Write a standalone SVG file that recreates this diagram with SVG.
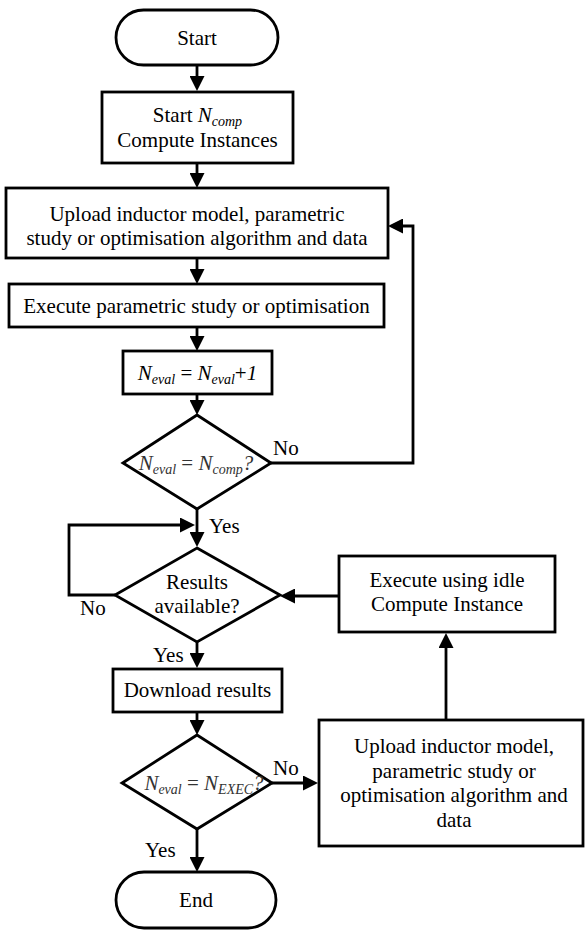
<svg xmlns="http://www.w3.org/2000/svg" width="585" height="930" viewBox="0 0 585 930">
<style>
.s{fill:#fff;stroke:#000;stroke-width:2.8}
.c{fill:none;stroke:#000;stroke-width:2.8;marker-end:url(#ah)}
.t{font-family:"Liberation Serif","Times New Roman",serif;font-size:21px;fill:#000}
.m{text-anchor:middle}
.i{font-style:italic}
.sub{font-size:14px;font-style:italic}
.g{fill:#333}
</style>
<defs>
<marker id="ah" markerUnits="userSpaceOnUse" markerWidth="15" markerHeight="15" viewBox="0 0 15 15" refX="7" refY="7.5" orient="auto">
<path d="M0,0 L15,7.5 L0,15 Z" fill="#000"/>
</marker>
</defs>
<rect width="585" height="930" fill="#fff"/>
<g id="connectors">
<path class="c" d="M197,65 V83"/>
<path class="c" d="M197,163 V180"/>
<path class="c" d="M197,258 V276"/>
<path class="c" d="M197,327 V343"/>
<path class="c" d="M197,394 V407"/>
<path class="c" d="M271,463 H413 V226 H396"/>
<path class="c" d="M197,509 V539"/>
<path class="c" d="M115,595 H69 V525 H187"/>
<path class="c" d="M197,642 V660"/>
<path class="c" d="M197,712 V727"/>
<path class="c" d="M197,829 V864"/>
<path class="c" d="M272,783 H310"/>
<path class="c" d="M446,720 V641"/>
<path class="c" d="M339,596 H288"/>
<text class="t" x="273" y="455">No</text>
<text class="t" x="209" y="533">Yes</text>
<text class="t" x="80" y="615">No</text>
<text class="t" x="153" y="662">Yes</text>
<text class="t" x="273" y="775">No</text>
<text class="t" x="145" y="857">Yes</text>
</g>
<g id="start">
<rect class="s" x="116" y="10" width="162" height="55" rx="27.5"/>
<text class="t m" x="197" y="45">Start</text>
</g>
<g id="start-instances">
<rect class="s" x="102" y="92" width="191" height="71"/>
<text class="t m" x="197.5" y="122">Start <tspan class="i">N</tspan><tspan class="sub" dy="4">comp</tspan></text>
<text class="t m" x="197.5" y="147">Compute Instances</text>
</g>
<g id="upload1">
<rect class="s" x="6" y="188" width="382" height="70"/>
<text class="t m" x="197" y="221">Upload inductor model, parametric</text>
<text class="t m" x="197" y="245">study or optimisation algorithm and data</text>
</g>
<g id="execute">
<rect class="s" x="9" y="284" width="375" height="43"/>
<text class="t m" x="196.5" y="313">Execute parametric study or optimisation</text>
</g>
<g id="increment">
<rect class="s" x="123" y="351" width="149" height="43"/>
<text class="t m" x="197.5" y="380"><tspan class="i">N</tspan><tspan class="sub" dy="4">eval</tspan><tspan dy="-4"> = </tspan><tspan class="i">N</tspan><tspan class="sub" dy="4">eval</tspan><tspan dy="-4">+</tspan><tspan class="i">1</tspan></text>
</g>
<g id="decision1">
<polygon class="s" points="197,415 271,463 197,509 123,463"/>
<text class="t m g" x="196" y="470"><tspan class="i">N</tspan><tspan class="sub" dy="4">eval</tspan><tspan dy="-4"> = </tspan><tspan class="i">N</tspan><tspan class="sub" dy="4">comp</tspan><tspan class="i" dy="-4">?</tspan></text>
</g>
<g id="decision2">
<polygon class="s" points="197,548 280,595 197,642 115,595"/>
<text class="t m" x="197" y="589">Results</text>
<text class="t m" x="197" y="613">available?</text>
</g>
<g id="download">
<rect class="s" x="113" y="669" width="169" height="43"/>
<text class="t m" x="197.5" y="697">Download results</text>
</g>
<g id="decision3">
<polygon class="s" points="197,735 272,783 197,829 122,783"/>
<text class="t m g" x="204" y="790"><tspan class="i">N</tspan><tspan class="sub" dy="4">eval</tspan><tspan dy="-4"> = </tspan><tspan class="i">N</tspan><tspan class="sub" dy="4">EXEC</tspan><tspan class="i" dy="-4">?</tspan></text>
</g>
<g id="execute-idle">
<rect class="s" x="339" y="556" width="216" height="76"/>
<text class="t m" x="447" y="587">Execute using idle</text>
<text class="t m" x="447" y="611">Compute Instance</text>
</g>
<g id="upload2">
<rect class="s" x="319" y="720" width="264" height="126"/>
<text class="t m" x="454" y="753">Upload inductor model,</text>
<text class="t m" x="454" y="778">parametric study or</text>
<text class="t m" x="454" y="802">optimisation algorithm and</text>
<text class="t m" x="454" y="827">data</text>
</g>
<g id="end">
<rect class="s" x="116" y="872" width="160" height="56" rx="28"/>
<text class="t m" x="196" y="907">End</text>
</g>
</svg>
